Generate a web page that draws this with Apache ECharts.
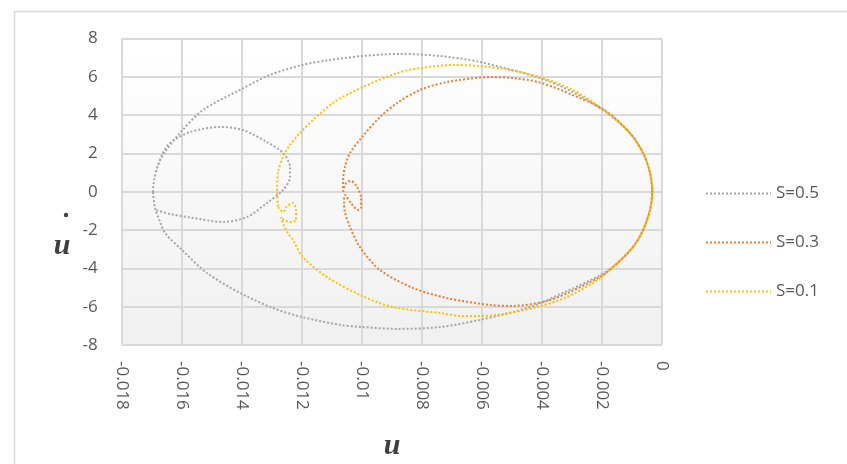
<!DOCTYPE html>
<html>
<head>
<meta charset="utf-8">
<script src="https://cdn.jsdelivr.net/npm/echarts@6/dist/echarts.min.js"></script>
<style>html,body{margin:0;padding:0;background:#fff;}#c{width:847px;height:464px;}</style>
</head>
<body>
<div id="c"></div>
<script>
// Series names
const seriesNames = ['S=0.5', 'S=0.3', 'S=0.1'];

// S=0.5 : [u, u_dot]  -- outer loop, then (after break) inner loop
const s05 = [
  [-0.01696, -0.02], [-0.01689, -0.85], [-0.01672, -1.58], [-0.01656, -2.15], [-0.01599, -3.04],
  [-0.01516, -4.24], [-0.01406, -5.28], [-0.01296, -6.07], [-0.01199, -6.54], [-0.01072, -6.95],
  [-0.00999, -7.06], [-0.00882, -7.16], [-0.00739, -7.06], [-0.00606, -6.69], [-0.00439, -6.02],
  [-0.00329, -5.28], [-0.00216, -4.45], [-0.00162, -3.93], [-0.00096, -2.89], [-0.00062, -2.00],
  [-0.00039, -0.95], [-0.00032, -0.02], [-0.00039, 0.98], [-0.00062, 2.02], [-0.00106, 3.06],
  [-0.00182, 4.11], [-0.00296, 5.20], [-0.00406, 5.93], [-0.00606, 6.77], [-0.00739, 7.08],
  [-0.00872, 7.19], [-0.00999, 7.08], [-0.01106, 6.87], [-0.01199, 6.61], [-0.01306, 6.09],
  [-0.01406, 5.31], [-0.01529, 4.26], [-0.01606, 3.06], [-0.01656, 2.07], [-0.01679, 1.39],
  [-0.01692, 0.61], [-0.01696, -0.02],
  '-',
  [-0.01686, 1.03], [-0.01666, 1.91], [-0.01639, 2.54], [-0.01572, 3.11], [-0.01472, 3.38],
  [-0.01396, 3.22], [-0.01316, 2.59], [-0.01262, 2.02], [-0.01239, 1.29], [-0.01239, 0.77],
  [-0.01262, 0.09], [-0.01316, -0.59], [-0.01382, -1.32], [-0.01462, -1.58], [-0.01562, -1.37],
  [-0.01639, -1.16], [-0.01686, -0.95]
];

// S=0.3
const s03 = [
  [-0.01062, -0.02], [-0.01052, 0.45], [-0.01036, 0.56], [-0.01016, 0.25], [-0.01002, -0.33],
  [-0.01002, -0.85], [-0.01012, -0.95], [-0.01036, -0.59], [-0.01056, -0.17], [-0.01059, -0.59],
  [-0.01056, -1.06], [-0.01039, -1.84], [-0.01006, -2.89], [-0.00939, -4.09], [-0.00829, -5.02],
  [-0.00716, -5.55], [-0.00572, -5.91], [-0.00496, -5.96], [-0.00382, -5.70], [-0.00316, -5.30],
  [-0.00206, -4.45], [-0.00162, -3.93], [-0.00096, -2.89], [-0.00062, -2.00], [-0.00039, -0.95],
  [-0.00032, -0.02], [-0.00039, 0.98], [-0.00062, 2.02], [-0.00106, 3.06], [-0.00190, 4.25],
  [-0.00296, 5.04], [-0.00406, 5.70], [-0.00496, 5.93], [-0.00572, 5.98],
  [-0.00716, 5.72], [-0.00806, 5.31], [-0.00882, 4.63], [-0.00939, 3.90], [-0.00999, 2.85],
  [-0.01039, 2.02], [-0.01056, 1.29], [-0.01062, 0.61], [-0.01062, 0.09]
];

// S=0.1
const s01 = [
  [-0.01279, -0.80], [-0.01262, -1.06], [-0.01249, -0.75], [-0.01229, -0.59], [-0.01219, -0.95],
  [-0.01219, -1.48], [-0.01239, -1.58], [-0.01259, -1.48], [-0.01269, -1.32], [-0.01259, -1.79],
  [-0.01246, -2.15], [-0.01229, -2.52], [-0.01196, -3.41], [-0.01116, -4.45], [-0.01006, -5.39],
  [-0.00896, -6.02], [-0.00739, -6.33], [-0.00662, -6.49], [-0.00549, -6.43], [-0.00416, -6.02],
  [-0.00316, -5.50], [-0.00206, -4.50], [-0.00096, -2.89], [-0.00062, -2.00], [-0.00039, -0.95],
  [-0.00029, -0.02], [-0.00039, 0.98], [-0.00062, 2.02], [-0.00106, 3.06], [-0.00182, 4.15],
  [-0.00296, 5.31], [-0.00406, 5.98], [-0.00506, 6.35], [-0.00606, 6.56], [-0.00696, 6.61],
  [-0.00806, 6.45], [-0.00882, 6.19], [-0.00996, 5.46], [-0.01096, 4.63], [-0.01206, 3.06],
  [-0.01256, 2.02], [-0.01279, 0.98], [-0.01282, -0.02], [-0.01279, -0.80]
];

// Axis ticks
const xTicks = [-0.018, -0.016, -0.014, -0.012, -0.01, -0.008, -0.006, -0.004, -0.002, 0];
const yTicks = [-8, -6, -4, -2, 0, 2, 4, 6, 8];

const colors = ['#a5a5a5', '#ed7d31', '#ffc000'];
const seriesData = [s05, s03, s01];

const chart = echarts.init(document.getElementById('c'), null, {renderer: 'canvas'});
const labelFont = '"Open Sans", "Noto Sans", sans-serif';

chart.setOption({
  animation: false,
  backgroundColor: '#ffffff',
  grid: {
    left: 121.7, right: 185.3, top: 38.4, bottom: 119,
    show: true,
    borderColor: '#d9d9d9', borderWidth: 1,
    backgroundColor: {
      type: 'linear', x: 0, y: 0, x2: 0, y2: 1,
      colorStops: [{offset: 0, color: '#ffffff'}, {offset: 1, color: '#f0f0f0'}]
    }
  },
  xAxis: {
    type: 'value',
    min: xTicks[0], max: xTicks[xTicks.length - 1], interval: 0.002,
    axisLine: {show: false},
    axisTick: {show: false},
    splitLine: {show: true, lineStyle: {color: '#d9d9d9', width: 2}},
    axisLabel: {
      rotate: -90, margin: 16, color: '#595959', fontSize: 17, fontFamily: labelFont,
      formatter: v => String(parseFloat(v.toFixed(3)))
    }
  },
  yAxis: {
    type: 'value',
    min: yTicks[0], max: yTicks[yTicks.length - 1], interval: 2,
    axisLine: {show: false},
    axisTick: {show: false},
    splitLine: {show: true, lineStyle: {color: '#d9d9d9', width: 2}},
    axisLabel: {margin: 24, color: '#595959', fontSize: 17, fontFamily: labelFont}
  },
  legend: {
    orient: 'vertical',
    left: 700, top: 180,
    itemWidth: 65, itemHeight: 14, itemGap: 32,
    itemStyle: {opacity: 0},
    textStyle: {color: '#595959', fontSize: 17, fontFamily: labelFont},
    data: seriesNames
  },
  series: seriesNames.map((name, i) => ({
    name: name,
    type: 'line',
    data: seriesData[i],
    showSymbol: false,
    symbol: 'none',
    smooth: 0.3,
    connectNulls: false,
    color: colors[i],
    lineStyle: {color: colors[i], width: 2, type: [2, 2], cap: 'butt'},
    z: 2 + i
  })),
  graphic: [
    {type: 'rect', left: 12, top: 9, shape: {width: 900, height: 600}, style: {fill: 'none', stroke: '#d9d9d9', lineWidth: 1.5}, z: 0, silent: true},
    {type: 'text', x: 392, y: 446, style: {text: 'u', font: 'italic bold 30px "Liberation Serif", serif', fill: '#404040', align: 'center', verticalAlign: 'middle'}},
    {type: 'text', x: 62, y: 246, style: {text: 'u', font: 'italic bold 30px "Liberation Serif", serif', fill: '#404040', align: 'center', verticalAlign: 'middle'}},
    {type: 'circle', shape: {cx: 66, cy: 215, r: 2.2}, style: {fill: '#404040'}}
  ]
});
</script>
</body>
</html>
